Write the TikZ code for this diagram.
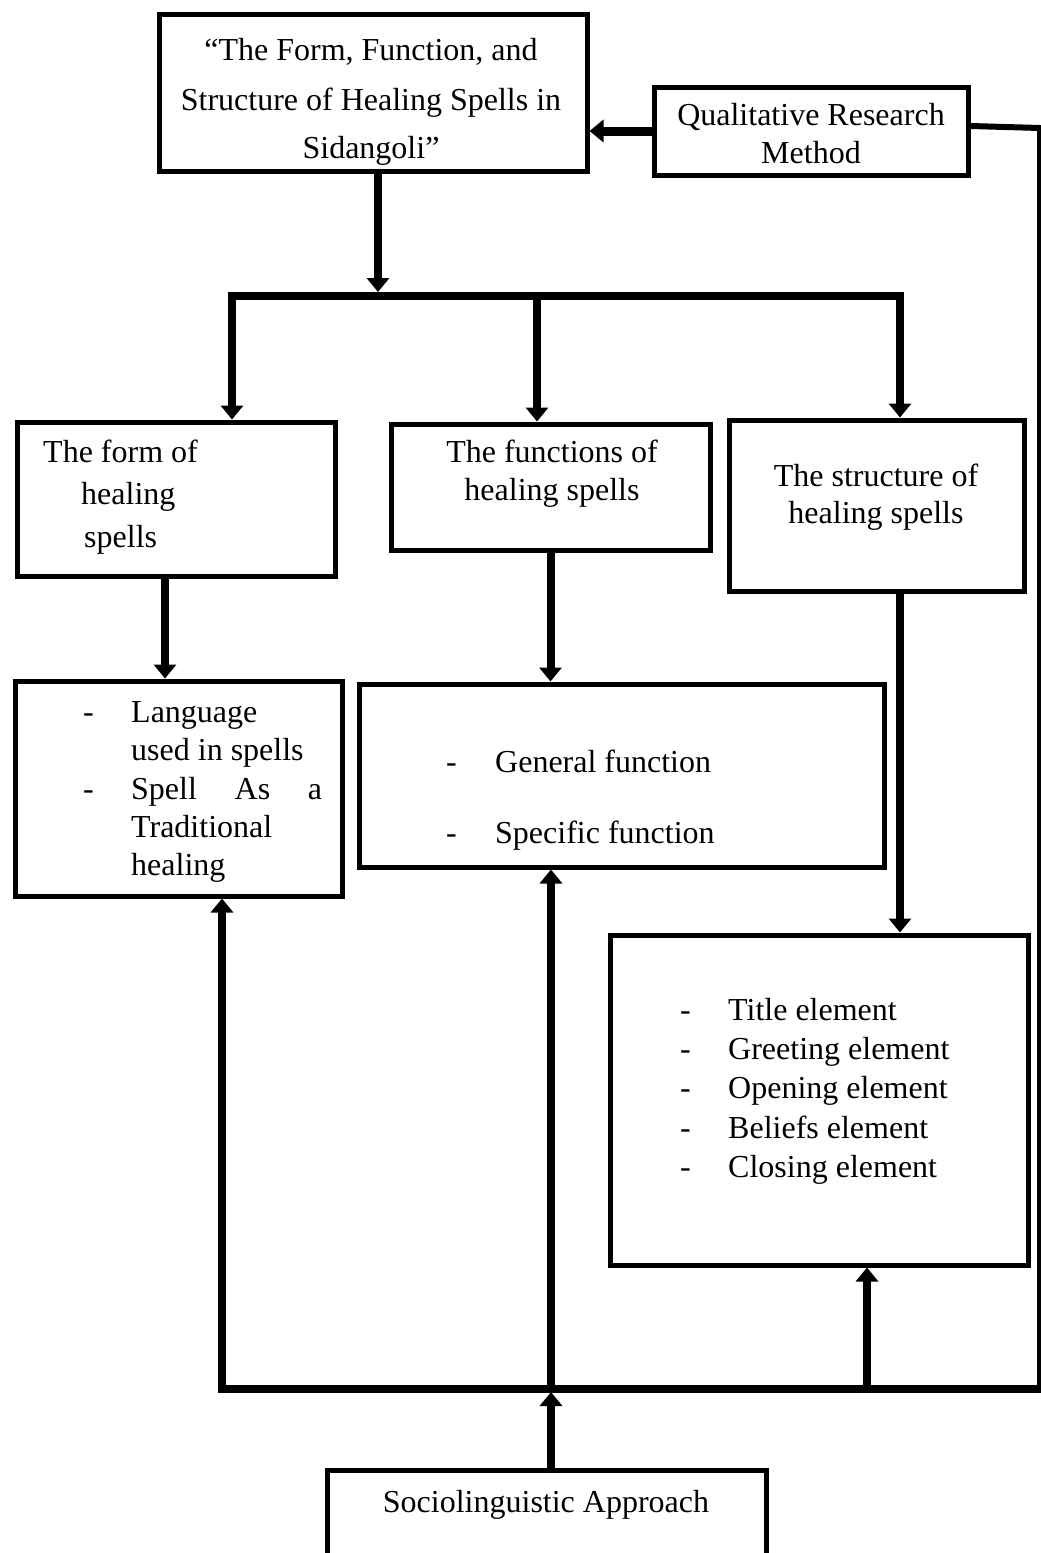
\documentclass[tikz,border=0pt]{standalone}
\usepackage{fontspec}
\setmainfont{Liberation Serif}
\usetikzlibrary{arrows.meta}
\begin{document}
\begin{tikzpicture}[x=1pt,y=-1pt,
 box/.style={draw, line width=5pt, inner sep=0pt, rectangle},
 txt/.style={inner sep=0pt, anchor=base, font=\fontsize{32}{39}\selectfont},
 txtw/.style={txt, anchor=base west},
 conn/.style={line width=8pt, line cap=rect},
 arr/.style={conn, -{Triangle[width=22pt,length=14pt]}},
 arrb/.style={conn, {Triangle[width=22pt,length=14pt]}-{Triangle[width=22pt,length=14pt]}},
]
\useasboundingbox[fill=white] (0,0) rectangle (1041,1553);

% boxes
\node[box, minimum width=428pt, minimum height=157pt] (title) at (373,92.5) {};
\node[box, minimum width=314pt, minimum height=88pt] (qual) at (811,131) {};
\node[box, minimum width=318pt, minimum height=154pt] (form) at (176,499) {};
\node[box, minimum width=319pt, minimum height=126pt] (func) at (550.5,487) {};
\node[box, minimum width=295pt, minimum height=171pt] (struct) at (876.5,505.5) {};
\node[box, minimum width=327pt, minimum height=215pt] (lang) at (178.5,788.5) {};
\node[box, minimum width=525pt, minimum height=183pt] (gen) at (621.5,775.5) {};
\node[box, minimum width=418pt, minimum height=330pt] (elem) at (819,1100) {};
\node[box, minimum width=439pt, minimum height=120pt] (socio) at (546.5,1530) {};

% texts
\node[txt] (t1) at (371,60) {“The Form, Function, and};
\node[txt] (t2) at (371,110) {Structure of Healing Spells in};
\node[txt] (t3) at (371,158) {Sidangoli”};

\node[txt] (q1) at (811,125) {Qualitative Research};
\node[txt] (q2) at (811,163) {Method};

\node[txtw] (f1) at (43,462) {The form of};
\node[txtw] (f2) at (81,504) {healing};
\node[txtw] (f3) at (84,547) {spells};

\node[txt] (u1) at (552,462) {The functions of};
\node[txt] (u2) at (552,500) {healing spells};

\node[txt] (s1) at (876,486) {The structure of};
\node[txt] (s2) at (876,523) {healing spells};

\node[txtw] (ld1) at (83,722) {-};
\node[txtw] (l1) at (131,722) {Language};
\node[txtw] (l2) at (131,760) {used in spells};
\node[txtw] (ld2) at (83,799) {-};
\node[txtw] (l3) at (131,799) {\makebox[191pt][s]{Spell As a}};
\node[txtw] (l4) at (131,837) {Traditional};
\node[txtw] (l5) at (131,875) {healing};

\node[txtw] (gd1) at (446,772) {-};
\node[txtw] (g1) at (495,772) {General function};
\node[txtw] (gd2) at (446,843) {-};
\node[txtw] (g2) at (495,843) {Specific function};

\node[txtw] (ed1) at (680,1020) {-};
\node[txtw] (e1) at (728,1020) {Title element};
\node[txtw] (ed2) at (680,1059) {-};
\node[txtw] (e2) at (728,1059) {Greeting element};
\node[txtw] (ed3) at (680,1098) {-};
\node[txtw] (e3) at (728,1098) {Opening element};
\node[txtw] (ed4) at (680,1138) {-};
\node[txtw] (e4) at (728,1138) {Beliefs element};
\node[txtw] (ed5) at (680,1177) {-};
\node[txtw] (e5) at (728,1177) {Closing element};

\node[txt] (so1) at (546,1512) {Sociolinguistic Approach};

% connectors
\draw[arr, line width=9pt] (qual.west) -- (qual.west -| title.east);

\coordinate (tb) at (378,296);
\draw[arr] (title.south -| tb) -- ([yshift=4pt]tb);

\coordinate (bl) at (232,296);
\coordinate (bm) at (537,296);
\coordinate (br) at (900,296);
\draw[arrb] (form.north -| bl) -- (bl) -- (br) -- (struct.north -| br);
\draw[arr] (bm) -- (func.north -| bm);

\draw[arr] ([xshift=-11pt]form.south) -- ([xshift=-11pt]form.south |- lang.north);
\draw[arr] (func.south) -- (func.south |- gen.north);
\draw[arr] ([xshift=23.5pt]struct.south) -- ([xshift=23.5pt]struct.south |- elem.north);

\coordinate (rt) at (1040,128);
\coordinate (botL) at (222,1389);
\coordinate (botM) at (551,1389);
\coordinate (botS) at (867,1389);
\coordinate (botR) at (1040,1389);
\draw[line width=6pt] ([yshift=5pt]qual.east) -- (rt) -- (botR);
\draw[conn] (botL) -- (botR);
\draw[arr] (botL) -- (botL |- lang.south);
\draw[arr] (botS) -- (botS |- elem.south);
\draw[arr] (botM) -- (botM |- gen.south);
\draw[arr] (socio.north -| botM) -- ([yshift=-3pt]botM);
\end{tikzpicture}
\end{document}
